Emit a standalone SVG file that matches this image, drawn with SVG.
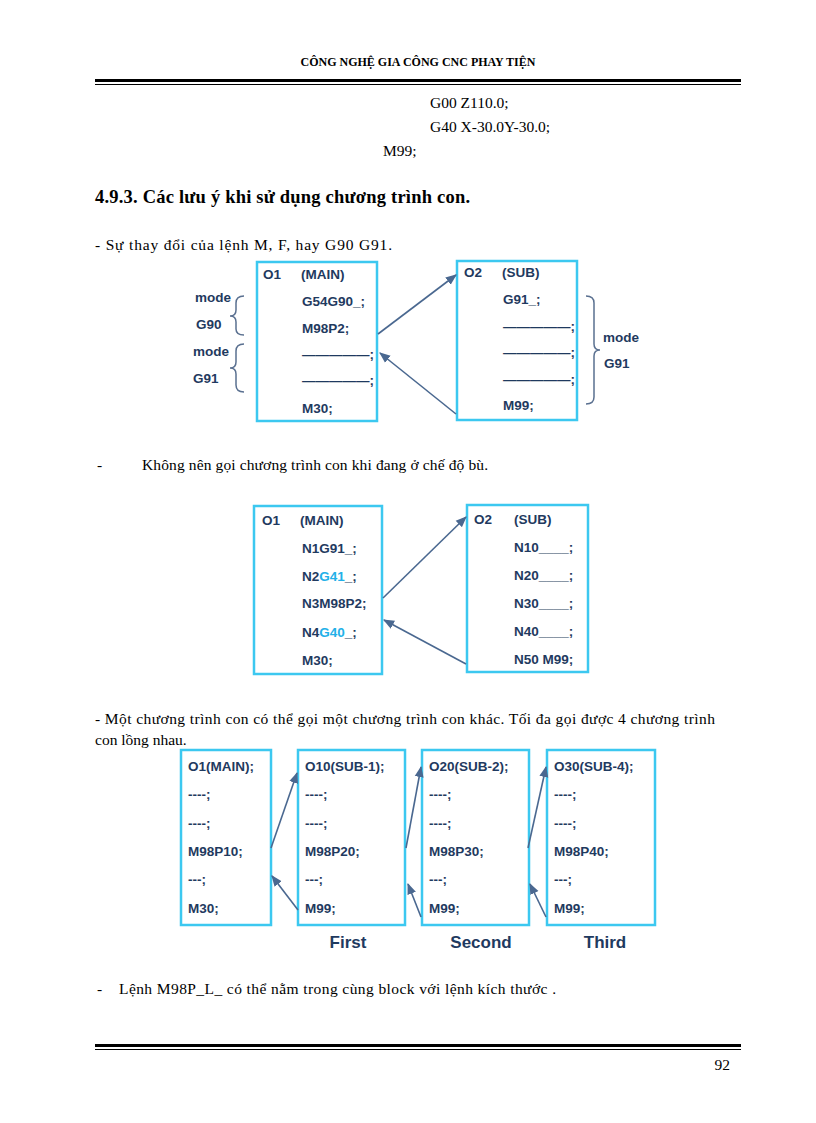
<svg xmlns="http://www.w3.org/2000/svg" width="816" height="1123" viewBox="0 0 816 1123">
<style>
.s{font-family:"Liberation Serif",serif;font-size:15.5px;fill:#000}
.d{font-family:"Liberation Sans",Arial,sans-serif;font-size:13.5px;font-weight:bold;fill:#1f3a60}
.b{fill:#fff;stroke:#3cc8f0;stroke-width:2.5}
.c{stroke:#4a6890;stroke-width:1.6;fill:none}
.br{stroke:#5a7090;stroke-width:1.5;fill:none}
.cy{fill:#22b0e8}
</style>
<defs><marker id="a" viewBox="0 0 10 10" refX="9" refY="5" markerWidth="7" markerHeight="7" orient="auto"><path d="M0,1 L10,5 L0,9 z" fill="#4a6890"/></marker></defs>
<rect width="816" height="1123" fill="#fff"/>
<text x="418" y="66" text-anchor="middle" class="s" style="font-size:12px;font-weight:bold">CÔNG NGHỆ GIA CÔNG CNC PHAY TIỆN</text>
<rect x="95" y="79" width="646" height="3" fill="#000"/><rect x="95" y="84" width="646" height="1" fill="#000"/>
<text x="430" y="108" class="s">G00 Z110.0;</text>
<text x="430" y="132" class="s">G40 X-30.0Y-30.0;</text>
<text x="383" y="156" class="s">M99;</text>
<text x="95" y="203" class="s" style="font-size:18.5px;font-weight:bold" textLength="375">4.9.3. Các lưu ý khi sử dụng chương trình con.</text>
<text x="95" y="250" class="s" textLength="297">- Sự thay đổi của lệnh M, F, hay G90 G91.</text>
<g id="n1"><rect class="b" x="257" y="262" width="120" height="159"/>
<text class="d" x="263" y="279">O1</text><text class="d" x="301" y="279">(MAIN)</text>
<text class="d" x="302" y="306">G54G90_;</text><text class="d" x="302" y="333">M98P2;</text>
<text class="d" x="302" y="359">—————;</text><text class="d" x="302" y="385">—————;</text>
<text class="d" x="302" y="413">M30;</text></g>
<g id="n2"><rect class="b" x="457" y="261" width="120" height="159"/>
<text class="d" x="464" y="277">O2</text><text class="d" x="502" y="277">(SUB)</text>
<text class="d" x="503" y="304">G91_;</text><text class="d" x="503" y="331">—————;</text>
<text class="d" x="503" y="357">—————;</text><text class="d" x="503" y="384">—————;</text>
<text class="d" x="503" y="410">M99;</text></g>
<g id="braces">
<text class="d" x="195" y="302">mode</text><text class="d" x="196" y="329">G90</text>
<path class="br" d="M244,296 Q236,296 236,303 L236,310 Q236,316 230,316 Q236,316 236,322 L236,329 Q236,335 244,335"/>
<text class="d" x="193" y="356">mode</text><text class="d" x="193" y="383">G91</text>
<path class="br" d="M244,344 Q236,344 236,351 L236,362 Q236,368 230,368 Q236,368 236,374 L236,385 Q236,392 244,392"/>
<path class="br" d="M586,296 Q594,296 594,303 L594,344 Q594,350 600,350 Q594,350 594,356 L594,397 Q594,404 586,404"/>
<text class="d" x="603" y="342">mode</text><text class="d" x="604" y="368">G91</text>
</g>
<text x="97" y="470" class="s">-</text><text x="142" y="470" class="s" textLength="346">Không nên gọi chương trình con khi đang ở chế độ bù.</text>
<g id="n3"><rect class="b" x="254" y="506" width="128" height="168"/>
<text class="d" x="262" y="525">O1</text><text class="d" x="300" y="525">(MAIN)</text>
<text class="d" x="302" y="553">N1G91_;</text>
<text class="d" x="302" y="581">N2<tspan class="cy">G41</tspan>_;</text>
<text class="d" x="302" y="608">N3M98P2;</text>
<text class="d" x="302" y="637">N4<tspan class="cy">G40</tspan>_;</text>
<text class="d" x="302" y="665">M30;</text></g>
<g id="n4"><rect class="b" x="467" y="505" width="121" height="167"/>
<text class="d" x="474" y="524">O2</text><text class="d" x="514" y="524">(SUB)</text>
<text class="d" x="514" y="552">N10____;</text><text class="d" x="514" y="580">N20____;</text>
<text class="d" x="514" y="608">N30____;</text><text class="d" x="514" y="636">N40____;</text>
<text class="d" x="514" y="664">N50 M99;</text></g>
<text x="95" y="724" class="s" textLength="620">-  Một chương trình con có thể gọi một chương trình con khác. Tối đa gọi được 4 chương trình</text>
<text x="95" y="745" class="s">con lồng nhau.</text>
<g id="n5"><rect class="b" x="181" y="750" width="90" height="175"/>
<text class="d" x="188" y="771">O1(MAIN);</text><text class="d" x="188" y="799">----;</text><text class="d" x="188" y="828">----;</text>
<text class="d" x="188" y="856">M98P10;</text><text class="d" x="188" y="884">---;</text><text class="d" x="188" y="913">M30;</text></g>
<g id="n6"><rect class="b" x="298" y="750" width="107" height="175"/>
<text class="d" x="305" y="771">O10(SUB-1);</text><text class="d" x="305" y="799">----;</text><text class="d" x="305" y="828">----;</text>
<text class="d" x="305" y="856">M98P20;</text><text class="d" x="305" y="884">---;</text><text class="d" x="305" y="913">M99;</text></g>
<g id="n7"><rect class="b" x="422" y="750" width="107" height="175"/>
<text class="d" x="429" y="771">O20(SUB-2);</text><text class="d" x="429" y="799">----;</text><text class="d" x="429" y="828">----;</text>
<text class="d" x="429" y="856">M98P30;</text><text class="d" x="429" y="884">---;</text><text class="d" x="429" y="913">M99;</text></g>
<g id="n8"><rect class="b" x="547" y="750" width="108" height="175"/>
<text class="d" x="554" y="771">O30(SUB-4);</text><text class="d" x="554" y="799">----;</text><text class="d" x="554" y="828">----;</text>
<text class="d" x="554" y="856">M98P40;</text><text class="d" x="554" y="884">---;</text><text class="d" x="554" y="913">M99;</text></g>
<g class="d" style="font-size:17px" text-anchor="middle"><text x="348" y="948">First</text><text x="481" y="948">Second</text><text x="605" y="948">Third</text></g>
<g id="connectors" class="c" marker-end="url(#a)">
<line x1="378" y1="334" x2="456" y2="275"/>
<line x1="456" y1="414" x2="380" y2="353"/>
<line x1="383" y1="598" x2="466" y2="517"/>
<line x1="466" y1="664" x2="384" y2="620"/>
<line x1="271" y1="848" x2="297" y2="773"/>
<line x1="298" y1="910" x2="272" y2="876"/>
<line x1="406" y1="848" x2="421" y2="767"/>
<line x1="421" y1="917" x2="408" y2="884"/>
<line x1="528" y1="848" x2="546" y2="767"/>
<line x1="546" y1="917" x2="530" y2="884"/>
</g>
<text x="97" y="994" class="s">-</text><text x="119" y="994" class="s" textLength="437">Lệnh M98P_L_ có thể nằm trong cùng block với lệnh kích thước .</text>
<rect x="95" y="1044" width="646" height="3" fill="#000"/><rect x="95" y="1049" width="646" height="1" fill="#000"/>
<text x="730" y="1070" text-anchor="end" class="s">92</text>
</svg>
